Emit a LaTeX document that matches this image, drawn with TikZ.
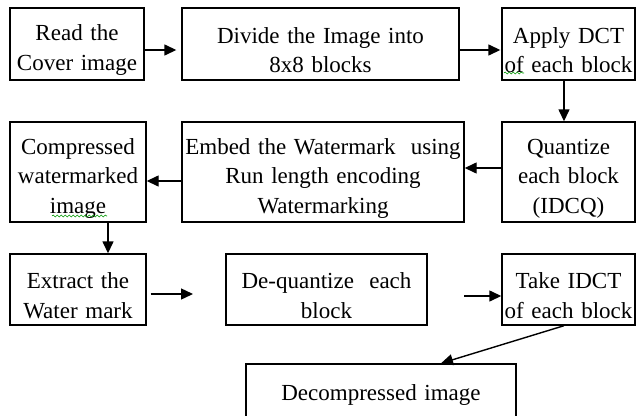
\documentclass[tikz,border=0pt]{standalone}
\usepackage{fontspec}
\setmainfont{Liberation Serif}
\usetikzlibrary{arrows.meta,decorations.pathmorphing}

\tikzset{
  boxbase/.style={draw=black, line width=1.4pt, rectangle, inner sep=0pt,
    align=center, font=\fontsize{23}{29.5}\selectfont},
  box/.style={boxbase, execute at begin node={\rule{0pt}{28pt}}},
  arr/.style={draw=black, line width=1.4pt, -{Triangle[length=12pt,width=11pt]}},
  spell/.style={draw=green!60!black, line width=0.6pt,
    decorate, decoration={snake, amplitude=1pt, segment length=4pt}}
}

\begin{document}
\begin{tikzpicture}[x=1pt, y=-1pt]
  \useasboundingbox (0,0) rectangle (636,415);

  % first row
  \node[box, minimum width=134pt, minimum height=72pt, text width=130pt] (read) at (77,44) {Read the\\Cover image};
  \node[box, minimum width=277pt, minimum height=72pt, text width=270pt] (divide) at (320.5,44) {Divide the Image into\\8x8 blocks};
  \node[box, minimum width=133pt, minimum height=72pt, text width=129pt] (dct) at (568.5,44) {Apply DCT\\of each block};

  % second row
  \node[box, minimum width=133pt, minimum height=100pt, text width=129pt] (quant) at (568.5,172) {Quantize\\each block\\(IDCQ)};
  \node[box, minimum width=282pt, minimum height=100pt, text width=278pt] (embed) at (323,172) {Embed the Watermark\ \ using\\Run length encoding\\Watermarking};
  \node[box, minimum width=136pt, minimum height=100pt, text width=132pt] (comp) at (78,172) {Compressed\\watermarked\\image};

  % third row
  \node[box, minimum width=136pt, minimum height=71pt, text width=132pt] (extract) at (78,289.5) {Extract the\\Water mark};
  \node[box, minimum width=201pt, minimum height=71pt, text width=197pt] (dequant) at (326.5,289.5) {De-quantize\ \ each\\block};
  \node[box, minimum width=133pt, minimum height=71pt, text width=129pt] (idct) at (568.5,289.5) {Take IDCT\\of each block};

  % output
  \node[boxbase, minimum width=270pt, minimum height=56pt, text width=266pt,
        execute at begin node={\rule{0pt}{22pt}}] (decomp) at (381,392) {Decompressed image};

  % free arrow ends
  \coordinate (e78) at (193,294);
  \coordinate (s89) at (464,296);

  % connectors
  \draw[arr, shorten >=5pt] ([yshift=-6pt]read.east) -- ([yshift=-6pt]divide.west);
  \draw[arr, shorten >=1pt] ([yshift=-6pt]divide.east) -- ([yshift=-6pt]dct.west);
  \draw[arr] ([xshift=-4.5pt]dct.south) -- ([xshift=-4.5pt]quant.north);
  \draw[arr] ([yshift=4pt]quant.west) -- ([yshift=4pt]embed.east);
  \draw[arr] ([yshift=-9pt]embed.west) -- ([yshift=-9pt]comp.east);
  \draw[arr] ([xshift=30pt]comp.south) -- ([xshift=30pt]extract.north);
  \draw[arr] ([xshift=4pt,yshift=-4.5pt]extract.east) -- (e78);
  \draw[arr] (s89) -- ([yshift=-6.5pt]idct.west);
  \draw[arr] ([xshift=-4.5pt]idct.south) -- ([xshift=60pt]decomp.north);

  % spell-check underlines
  \draw[spell] (504,73) -- (524,73);
  \draw[spell] (52,216) -- (107,216);
\end{tikzpicture}
\end{document}
